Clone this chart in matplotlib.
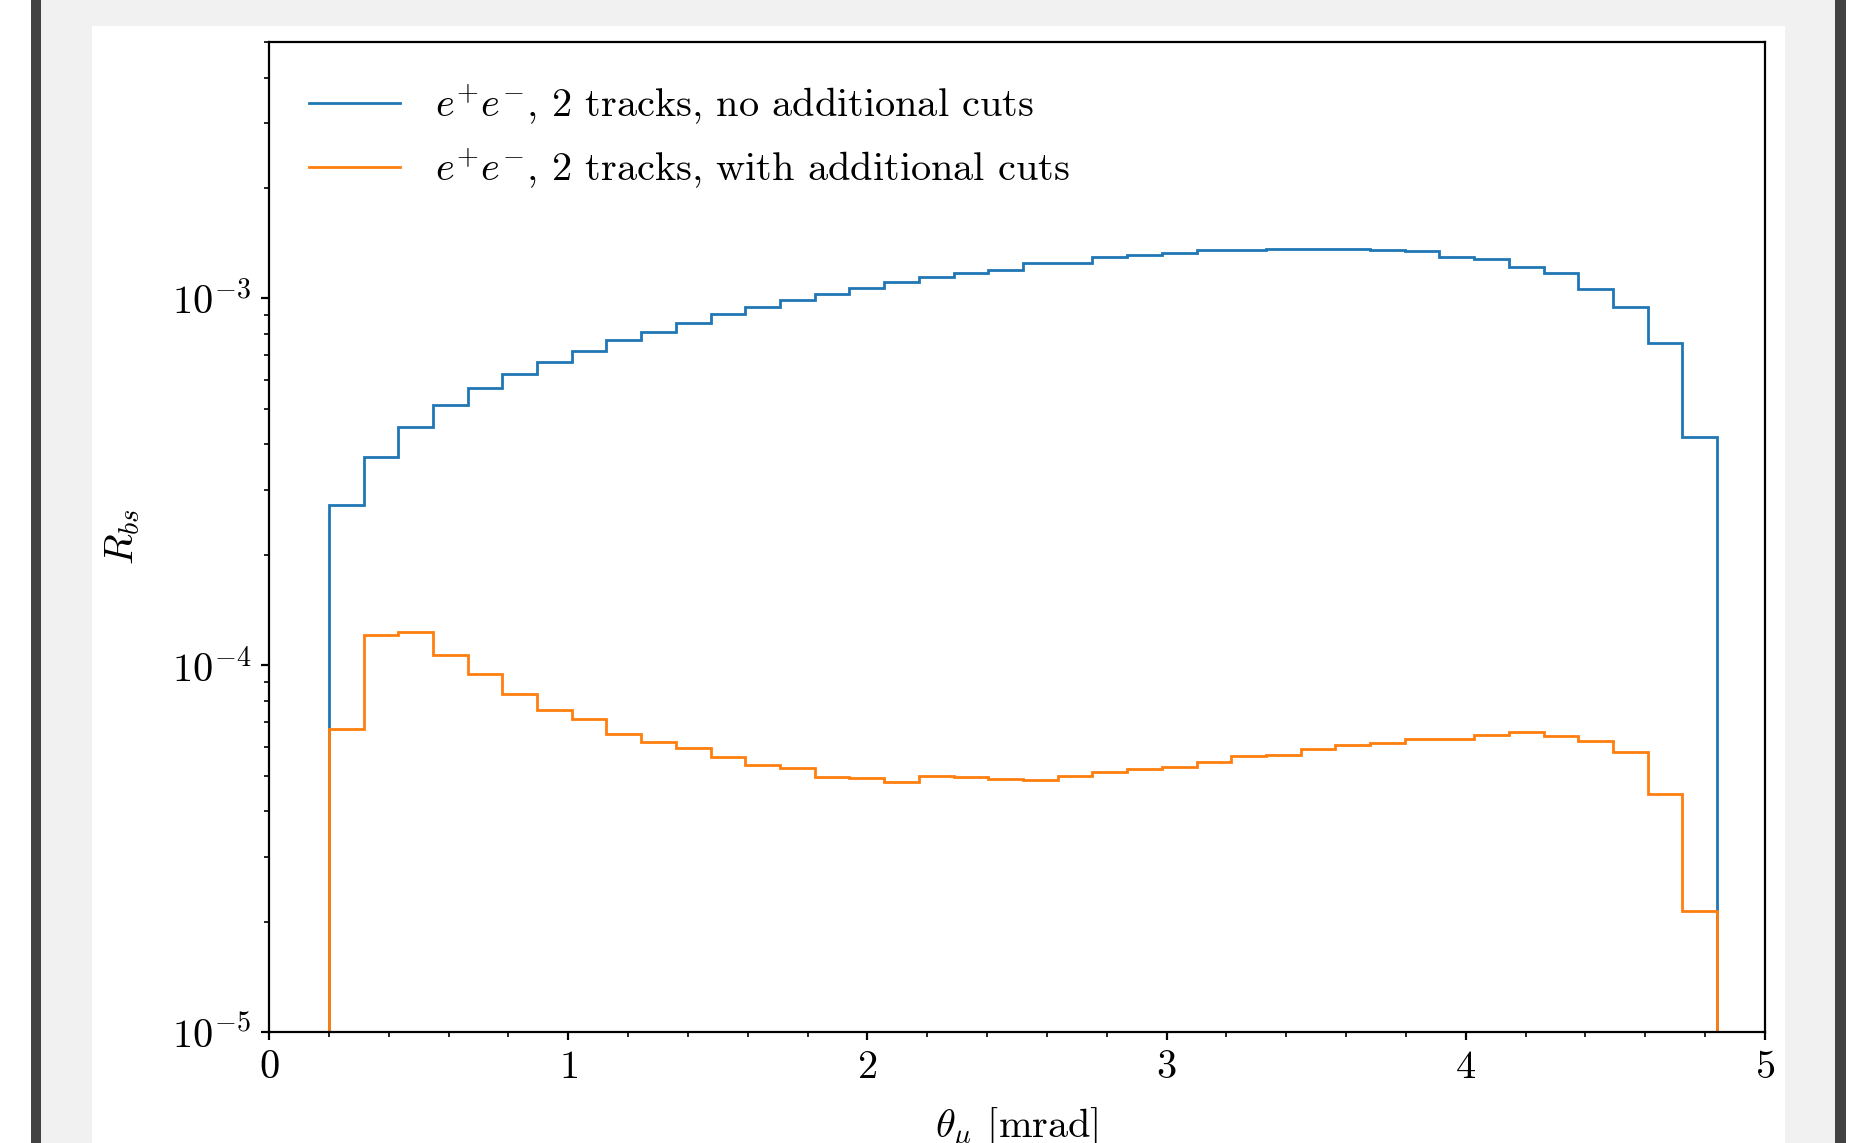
import numpy as np
import matplotlib
matplotlib.use("Agg")
import matplotlib.pyplot as plt
from matplotlib.patches import Rectangle
from matplotlib.ticker import AutoMinorLocator

# bin edges in theta_mu [mrad] (40 bins)
theta_lo, theta_hi, n_bins = 0.2, 4.84, 40

# R_bs per bin, e+e-, 2 tracks, no additional cuts
r_nocuts = [2.73e-4, 3.69e-4, 4.46e-4, 5.11e-4, 5.71e-4, 6.21e-4, 6.70e-4, 7.20e-4,
            7.69e-4, 8.08e-4, 8.57e-4, 9.04e-4, 9.46e-4, 9.89e-4, 1.025e-3, 1.070e-3,
            1.109e-3, 1.147e-3, 1.173e-3, 1.196e-3, 1.251e-3, 1.251e-3, 1.294e-3, 1.312e-3,
            1.331e-3, 1.353e-3, 1.356e-3, 1.365e-3, 1.361e-3, 1.365e-3, 1.353e-3, 1.346e-3,
            1.297e-3, 1.280e-3, 1.216e-3, 1.170e-3, 1.061e-3, 9.48e-4, 7.55e-4, 4.20e-4]

# R_bs per bin, e+e-, 2 tracks, with additional cuts
r_cuts = [6.72e-5, 1.21e-4, 1.23e-4, 1.069e-4, 9.48e-5, 8.36e-5, 7.55e-5, 7.13e-5,
          6.51e-5, 6.18e-5, 5.95e-5, 5.63e-5, 5.35e-5, 5.26e-5, 4.96e-5, 4.92e-5,
          4.81e-5, 5.00e-5, 4.96e-5, 4.91e-5, 4.87e-5, 5.00e-5, 5.10e-5, 5.21e-5,
          5.28e-5, 5.43e-5, 5.65e-5, 5.69e-5, 5.92e-5, 6.07e-5, 6.12e-5, 6.30e-5,
          6.28e-5, 6.46e-5, 6.59e-5, 6.42e-5, 6.21e-5, 5.79e-5, 4.45e-5, 2.14e-5]

labels = [r"$e^{+}e^{-}$, 2 tracks, no additional cuts",
          r"$e^{+}e^{-}$, 2 tracks, with additional cuts"]

plt.rcParams["font.family"] = "serif"
plt.rcParams["font.serif"] = ["cmr10"]
plt.rcParams["mathtext.fontset"] = "cm"
plt.rcParams["axes.formatter.use_mathtext"] = True
plt.rcParams["font.size"] = 14.5

W, H = 1869, 1143
fig = plt.figure(figsize=(W / 200, H / 200), dpi=200, facecolor="white")

# screenshot frame around the figure
def add_box(x0, y0, x1, y1, color):
    fig.add_artist(Rectangle((x0 / W, 1 - y1 / H), (x1 - x0) / W, (y1 - y0) / H,
                             transform=fig.transFigure, facecolor=color,
                             edgecolor="none", zorder=-10))

add_box(41, 0, 1835, H, "#f1f1f1")
add_box(31, 0, 41, H, "#424242")
add_box(1835, 0, 1846, H, "#424242")
add_box(92, 26, 1785, H, "white")

ax = fig.add_axes([269 / W, 1 - 1032 / H, (1765 - 269) / W, (1032 - 42) / H])

edges = np.linspace(theta_lo, theta_hi, n_bins + 1)
ax.stairs(r_nocuts, edges, baseline=1e-9, color="#1f77b4", lw=1.0, label=labels[0])
ax.stairs(r_cuts, edges, baseline=1e-9, color="#ff7f0e", lw=1.0, label=labels[1])

ax.set_yscale("log")
ax.set_xlim(0, 5)
ax.set_ylim(1e-5, 5e-3)
ax.xaxis.set_minor_locator(AutoMinorLocator(5))
ax.tick_params(which="major", length=3.0, width=0.8)
ax.tick_params(which="minor", length=1.7, width=0.6)

ax.set_xlabel(r"$\theta_\mu$ [mrad]")
ax.xaxis.set_label_coords(0.5, -0.074)
ax.set_ylabel(r"$R_{bs}$")
ax.yaxis.set_label_coords(-0.085, 0.5)

leg = ax.legend(loc="upper left", frameon=False, fontsize=14.5,
                handlelength=2.26, handletextpad=0.86, borderaxespad=0.6)
for h in leg.get_lines():
    h.set_linewidth(1.0)

fig.savefig("out.png", dpi=200)
